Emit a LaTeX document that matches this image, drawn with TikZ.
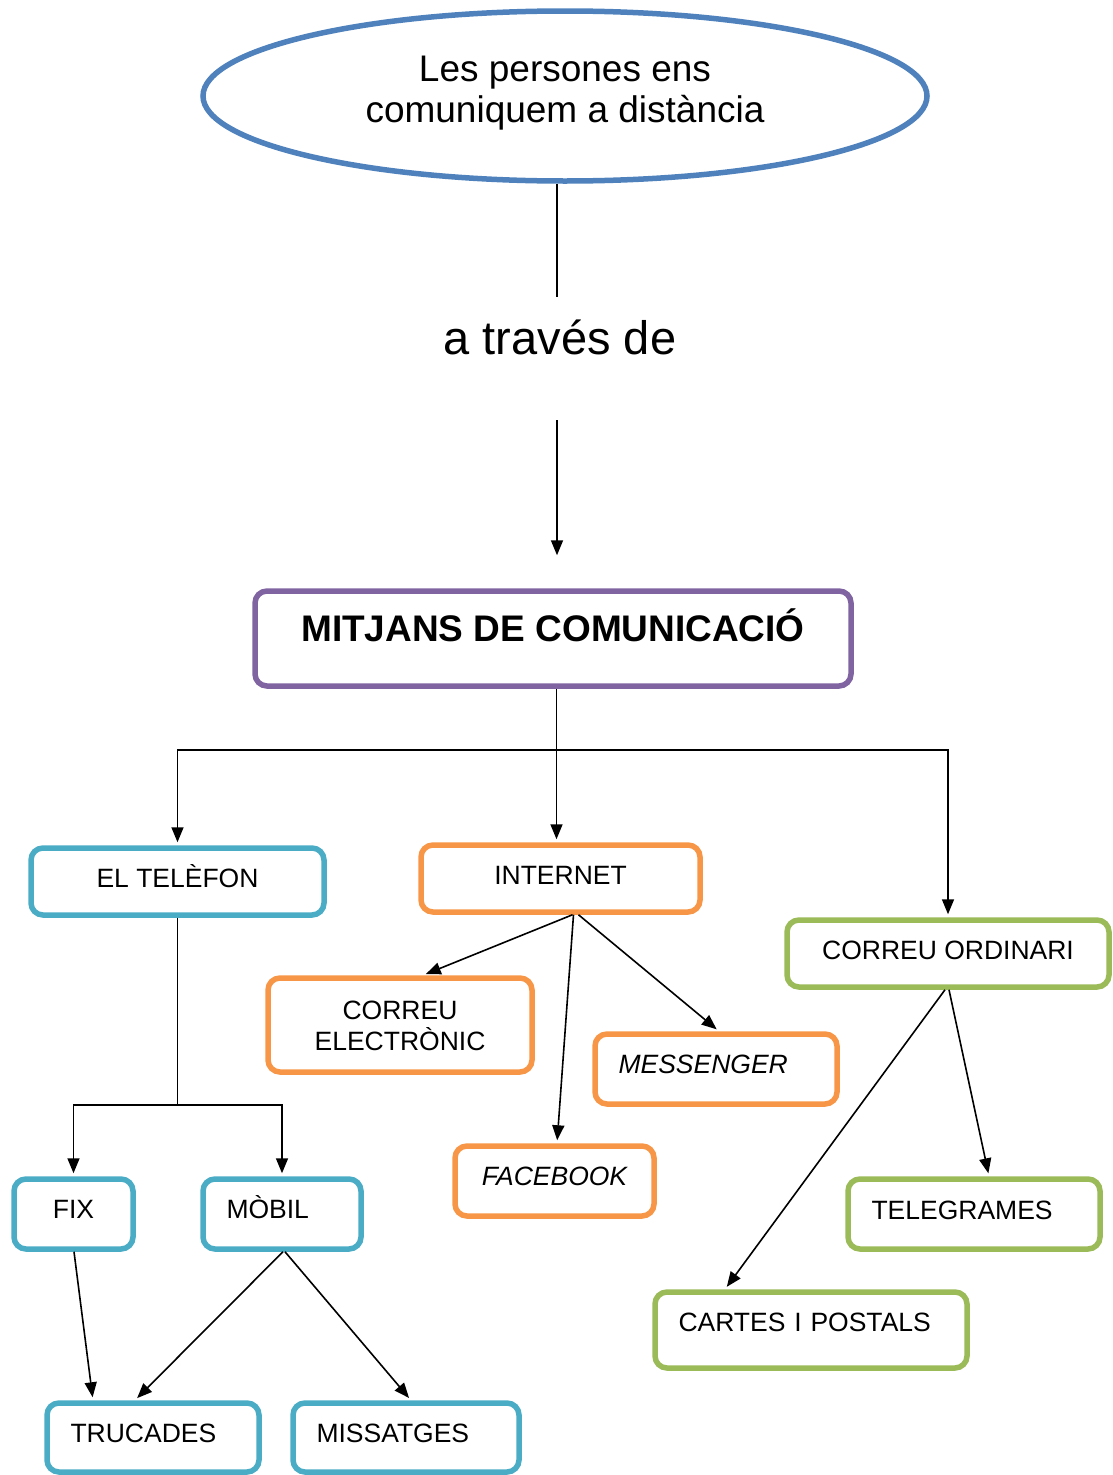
\documentclass[tikz,border=0pt]{standalone}
\usepackage{fontspec}
\setmainfont{Liberation Sans}
\usetikzlibrary{
  shapes.geometric,
  arrows.meta
}
\definecolor{ovalblue}{HTML}{4F81BD}
\definecolor{purplebox}{HTML}{8064A2}
\definecolor{aquabox}{HTML}{4BACC6}
\definecolor{orangebox}{HTML}{F79646}
\definecolor{greenbox}{HTML}{9BBB59}

\begin{document}
\begin{tikzpicture}[x=1pt, y=-1pt,
  box/.style = {draw, rounded corners=12pt, line width=5.5pt, inner sep=0pt,
    align=center, font=\fontsize{26.5}{31}\selectfont,
    text height=19pt, text depth=7pt},
  leftbox/.style = {box, align=left, inner xsep=23.5pt},
  plain/.style = {line width=1.6pt},
  link/.style = {plain, shorten >=3pt, -{Triangle[length=15pt,width=12pt]}}]
  \useasboundingbox (0,0) rectangle (1112,1475);

  % top of the map
  \node[ellipse, draw=ovalblue, line width=5.5pt, minimum width=724pt,
    minimum height=170pt, inner sep=0pt, align=center,
    font=\fontsize{37}{41}\selectfont, text height=68pt, text depth=16pt]
    (top) at (565,96) {Les persones ens\\comuniquem a distància};
  \node[anchor=base, inner sep=0pt, font=\fontsize{47}{56}\selectfont,
    text height=57pt, text depth=66pt] (via) at (560,354) {a través de};
  \node[box, draw=purplebox, minimum width=596pt, minimum height=95pt,
    font=\bfseries\fontsize{37}{44}\selectfont, text height=26.5pt,
    text depth=21pt] (mitjans) at (553,638.5) {MITJANS DE COMUNICACIÓ};

  % three branches
  \node[box, draw=aquabox, minimum width=293pt, minimum height=67pt]
    (telefon) at (177.5,881.5) {EL TELÈFON};
  \node[box, draw=orangebox, minimum width=279pt, minimum height=67pt]
    (internet) at (560.5,878.5) {INTERNET};
  \node[box, draw=greenbox, minimum width=322pt, minimum height=67pt]
    (ordinari) at (948,953.5) {CORREU ORDINARI};

  % internet
  \node[box, draw=orangebox, minimum width=264pt, minimum height=94pt,
    text height=50pt, text depth=0pt] (electronic) at (400,1025)
    {CORREU\\ELECTRÒNIC};
  \node[leftbox, draw=orangebox, text width=195pt, minimum height=70pt,
    text depth=10pt, font=\itshape\fontsize{26.5}{31}\selectfont]
    (messenger) at (716,1069) {MESSENGER};
  \node[box, draw=orangebox, minimum width=199pt, minimum height=70pt,
    text depth=10pt, font=\itshape\fontsize{26.5}{31}\selectfont]
    (facebook) at (554.5,1181) {FACEBOOK};

  % telefon
  \node[box, draw=aquabox, minimum width=119pt, minimum height=70pt,
    text depth=10pt] (fix) at (73.5,1214) {FIX};
  \node[leftbox, draw=aquabox, text width=111pt, minimum height=70pt,
    text depth=10pt] (mobil) at (282,1214) {MÒBIL};
  \node[leftbox, draw=aquabox, text width=165pt, minimum height=69pt,
    text depth=9pt] (trucades) at (153,1437.5) {TRUCADES};
  \node[leftbox, draw=aquabox, text width=179pt, minimum height=69pt,
    text depth=9pt] (missatges) at (406,1437.5) {MISSATGES};

  % correu ordinari
  \node[leftbox, draw=greenbox, text width=205pt, minimum height=70pt,
    text depth=9pt] (telegrames) at (974,1214) {TELEGRAMES};
  \node[leftbox, draw=greenbox, text width=265pt, minimum height=76pt,
    text depth=16pt] (cartes) at (811,1330) {CARTES I POSTALS};

  % connectors
  \coordinate (fork) at (556.5,750);
  \coordinate (split) at (177.5,1105);
  \draw[plain] ([xshift=-8pt]top.south) -- ([xshift=-3pt]via.north);
  \draw[link, shorten >=33pt] ([xshift=-3pt]via.south) -- ([xshift=4pt]mitjans.north);
  \draw[plain] ([xshift=3.5pt]mitjans.south) -- (fork);
  \draw[link] (fork) -- (fork |- internet.north);
  \draw[link] (fork) -| (telefon.north);
  \draw[link] (fork) -| (ordinari.north);

  \draw[link] ([xshift=12pt]internet.south) -- ([xshift=23pt]electronic.north);
  \draw[link] ([xshift=13pt]internet.south) -- ([xshift=2.5pt]facebook.north);
  \draw[link] ([xshift=18pt]internet.south) -- ([xshift=3pt]messenger.north);

  \draw[plain] (telefon.south) -- (split);
  \draw[link] (split) -| (fix.north);
  \draw[link] (split) -| (mobil.north);
  \draw[link] ([xshift=0.5pt]fix.south) -- ([xshift=-60pt]trucades.north);
  \draw[link] ([xshift=1pt]mobil.south) -- ([xshift=-18pt]trucades.north);
  \draw[link] ([xshift=3pt]mobil.south) -- ([xshift=5pt]missatges.north);

  \draw[link] ([xshift=-3pt]ordinari.south) -- ([xshift=-86pt]cartes.north);
  \draw[link] ([xshift=1pt]ordinari.south) -- ([xshift=15pt]telegrames.north);
\end{tikzpicture}
\end{document}
